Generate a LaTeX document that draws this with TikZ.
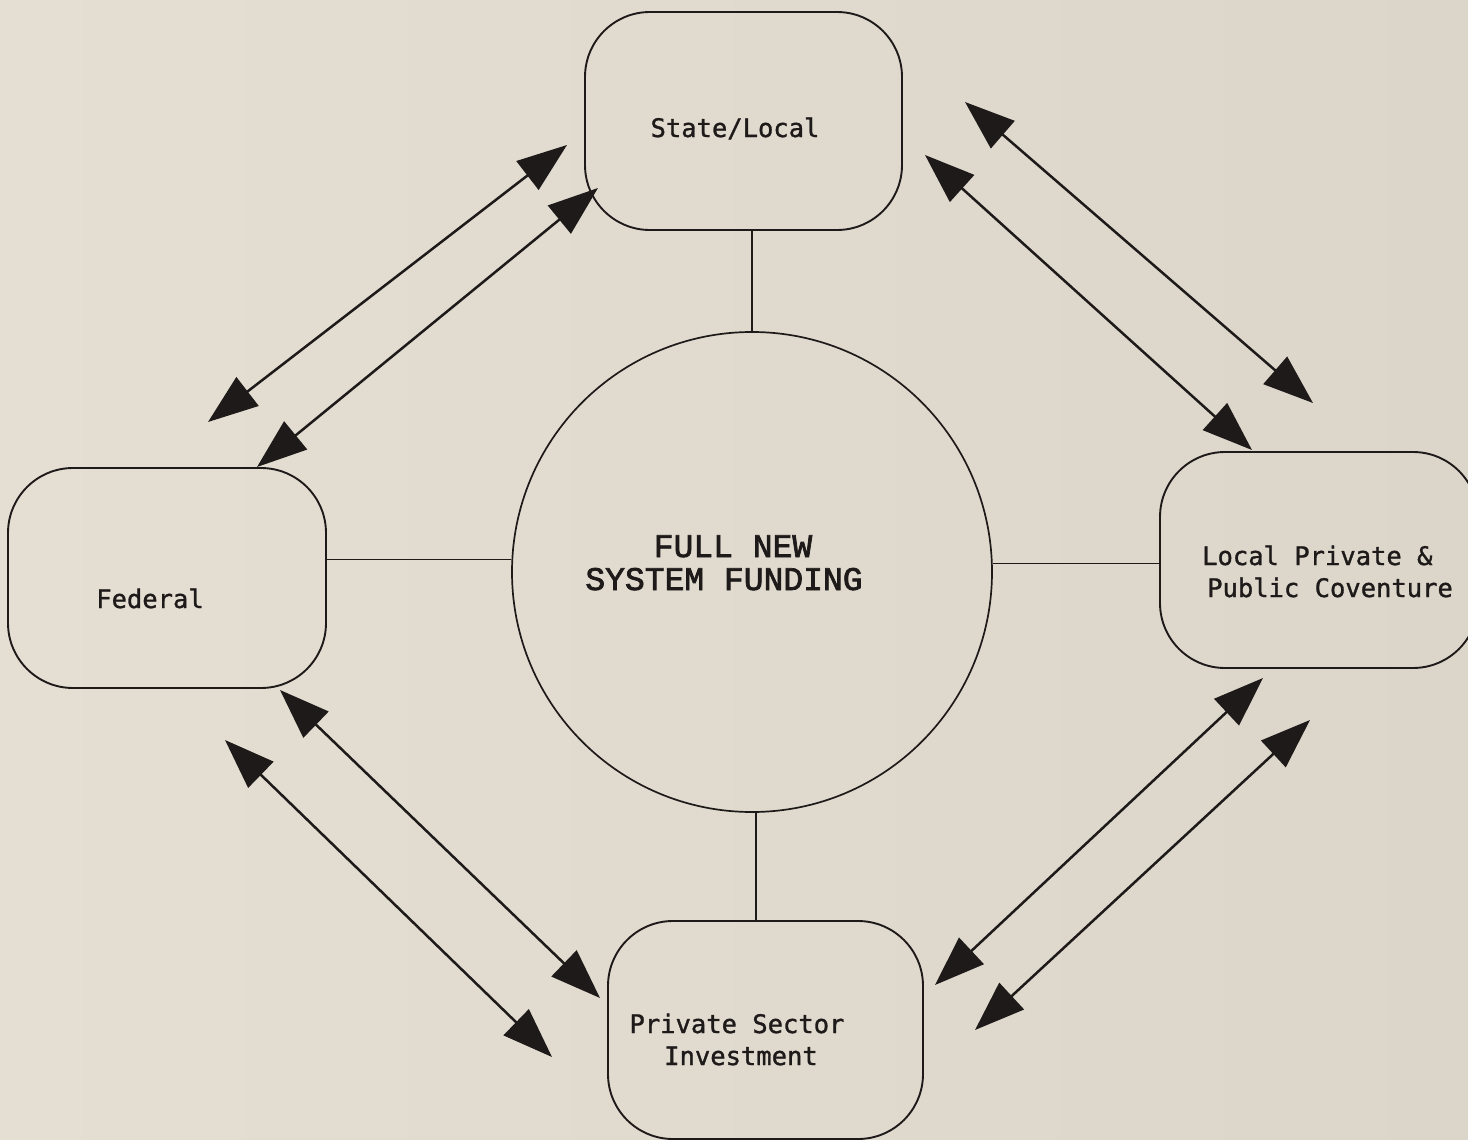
\documentclass[tikz,border=0pt]{standalone}
\usepackage{fontspec}
\newfontfamily\boxfont{DejaVu Sans Mono}[FakeBold=1.2]
\newfontfamily\circfont{Liberation Mono}[FakeBold=2.2]
\usetikzlibrary{arrows.meta}
\definecolor{bgL}{RGB}{229,223,211}
\definecolor{bgR}{RGB}{219,214,201}
\definecolor{ink}{RGB}{30,26,26}
\tikzset{
  roundbox/.style={draw=ink,line width=1.9pt,rounded corners=65pt,inner sep=0pt},
  lbl/.style={font=\boxfont\fontsize{25.5}{30}\selectfont,text=ink,anchor=base,inner sep=0pt},
  clbl/.style={font=\circfont\fontsize{33}{36}\selectfont,text=ink,anchor=base,inner sep=0pt},
  link/.style={draw=ink,line width=1.7pt},
  dbl/.style={draw=ink,line width=2.5pt,{Triangle[length=50pt,width=36pt]}-{Triangle[length=50pt,width=36pt]}},
}
\begin{document}
\begin{tikzpicture}[x=1pt,y=-1pt]
\useasboundingbox (0,0) rectangle (1468,1140);
\clip (0,0) rectangle (1468,1140);
\fill[left color=bgL,right color=bgR] (0,0) rectangle (1468,1140);

% boxes
\node[roundbox,minimum width=317pt,minimum height=218pt] (sl) at (743.5,121) {};
\node[roundbox,minimum width=318pt,minimum height=220pt] (fed) at (167,578) {};
\node[roundbox,minimum width=318pt,minimum height=216pt] (lp) at (1319,560) {};
\node[roundbox,minimum width=315pt,minimum height=218pt] (ps) at (765.5,1030) {};
\node[draw=ink,line width=1.7pt,circle,minimum size=480pt,inner sep=0pt] (c) at (752,572) {};

% texts
\node[lbl] (slt) at (735,137) {State/Local};
\node[lbl] (fedt) at (150,608) {Federal};
\node[lbl,anchor=base west] (lpt1) at (1202,565) {Local Private \&};
\node[lbl,anchor=base west] (lpt2) at (1207,597) {Public Coventure};
\node[lbl] (pst1) at (737,1033) {Private Sector};
\node[lbl] (pst2) at (741,1065) {Investment};
\node[clbl] (ct1) at (733,557) {FULL NEW};
\node[clbl] (ct2) at (724,590) {SYSTEM FUNDING};

% links to circle
\draw[link] (c.north |- sl.south) -- (c.north);
\draw[link] (fed.east |- c.177.5) -- (c.177.5);
\draw[link] (c.2.5) -- (lp.west |- c.2.5);
\draw[link] (c.-89) -- (ps.north -| c.-89);

% arrow end points
\coordinate (a1) at (208,422); \coordinate (a2) at (567,145);
\coordinate (b1) at (257,467); \coordinate (b2) at (598,188);
\coordinate (c1) at (965,102); \coordinate (c2) at (1313,403);
\coordinate (d1) at (925,155); \coordinate (d2) at (1252,450);
\coordinate (e1) at (280,690); \coordinate (e2) at (600,998);
\coordinate (f1) at (225,740); \coordinate (f2) at (552,1057);
\coordinate (g1) at (935,985); \coordinate (g2) at (1263,678);
\coordinate (h1) at (975,1030); \coordinate (h2) at (1310,720);

\draw[dbl] (a1) -- (a2);
\draw[dbl] (b1) -- (b2);
\draw[dbl] (c1) -- (c2);
\draw[dbl] (d1) -- (d2);
\draw[dbl] (e1) -- (e2);
\draw[dbl] (f1) -- (f2);
\draw[dbl] (g1) -- (g2);
\draw[dbl] (h1) -- (h2);
\end{tikzpicture}
\end{document}
